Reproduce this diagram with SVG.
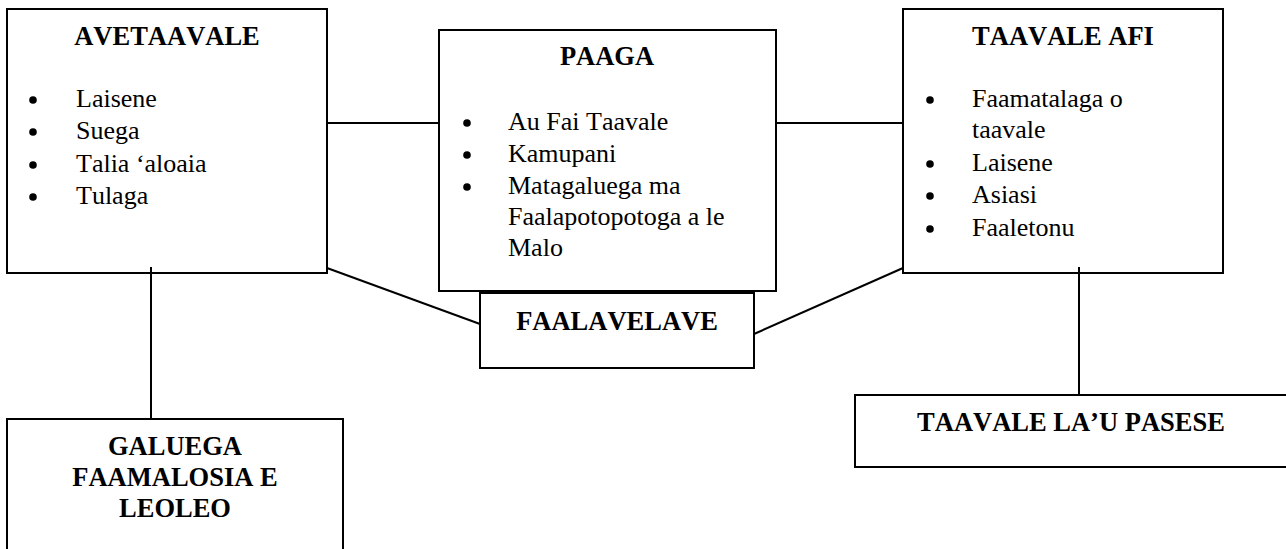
<svg xmlns="http://www.w3.org/2000/svg" width="1286" height="549" viewBox="0 0 1286 549">
<style>
.box{fill:#fff;stroke:#000;stroke-width:2}
.ln{stroke:#000;stroke-width:2;fill:none}
.t{font-family:"Liberation Serif","Times New Roman",serif;font-weight:bold;font-size:26.5px;text-anchor:middle;font-kerning:none}
.i{font-family:"Liberation Serif","Times New Roman",serif;font-size:26px;font-kerning:none}
.b{fill:#000}
</style>
<rect width="1286" height="549" fill="#fff"/>
<g id="connectors">
<line class="ln" x1="327" y1="123" x2="439" y2="123"/>
<line class="ln" x1="776" y1="123" x2="903" y2="123"/>
<line class="ln" x1="327" y1="268" x2="480" y2="324"/>
<line class="ln" x1="754" y1="334" x2="903" y2="268"/>
<line class="ln" x1="151" y1="267" x2="151" y2="419"/>
<line class="ln" x1="1079" y1="267" x2="1079" y2="395"/>
</g>
<g id="avetaavale">
<rect class="box" x="7" y="9" width="320" height="264" style="fill:none"/>
<text class="t" x="167" y="45">AVETAAVALE</text>
<circle class="b" cx="33" cy="100" r="3.8"/>
<circle class="b" cx="33" cy="132" r="3.8"/>
<circle class="b" cx="33" cy="165" r="3.8"/>
<circle class="b" cx="33" cy="197" r="3.8"/>
<text class="i" x="76" y="107">Laisene</text>
<text class="i" x="76" y="139">Suega</text>
<text class="i" x="76" y="172">Talia ‘aloaia</text>
<text class="i" x="76" y="204">Tulaga</text>
</g>
<g id="paaga">
<rect class="box" x="439" y="30" width="337" height="261"/>
<text class="t" x="607" y="65">PAAGA</text>
<circle class="b" cx="467" cy="123" r="3.8"/>
<circle class="b" cx="467" cy="155" r="3.8"/>
<circle class="b" cx="467" cy="187" r="3.8"/>
<text class="i" x="508" y="130">Au Fai Taavale</text>
<text class="i" x="508" y="162">Kamupani</text>
<text class="i" x="508" y="194">Matagaluega ma</text>
<text class="i" x="508" y="225">Faalapotopotoga a le</text>
<text class="i" x="508" y="256">Malo</text>
</g>
<g id="taavale-afi">
<rect class="box" x="903" y="9" width="320" height="264" style="fill:none"/>
<text class="t" x="1063" y="45">TAAVALE AFI</text>
<circle class="b" cx="930" cy="100" r="3.8"/>
<circle class="b" cx="930" cy="164" r="3.8"/>
<circle class="b" cx="930" cy="196" r="3.8"/>
<circle class="b" cx="930" cy="229" r="3.8"/>
<text class="i" x="972" y="107">Faamatalaga o</text>
<text class="i" x="972" y="138">taavale</text>
<text class="i" x="972" y="171">Laisene</text>
<text class="i" x="972" y="203">Asiasi</text>
<text class="i" x="972" y="236">Faaletonu</text>
</g>
<g id="faalavelave">
<rect class="box" x="480" y="293" width="274" height="75"/>
<text class="t" x="617" y="330">FAALAVELAVE</text>
</g>
<g id="taavale-lau-pasese">
<rect class="box" x="855" y="395" width="433" height="72"/>
<text class="t" x="1071" y="431">TAAVALE LA’U PASESE</text>
</g>
<g id="galuega">
<rect class="box" x="7" y="419" width="336" height="140"/>
<text class="t" x="175" y="455">GALUEGA</text>
<text class="t" x="175" y="486">FAAMALOSIA E</text>
<text class="t" x="175" y="517">LEOLEO</text>
</g>
</svg>
